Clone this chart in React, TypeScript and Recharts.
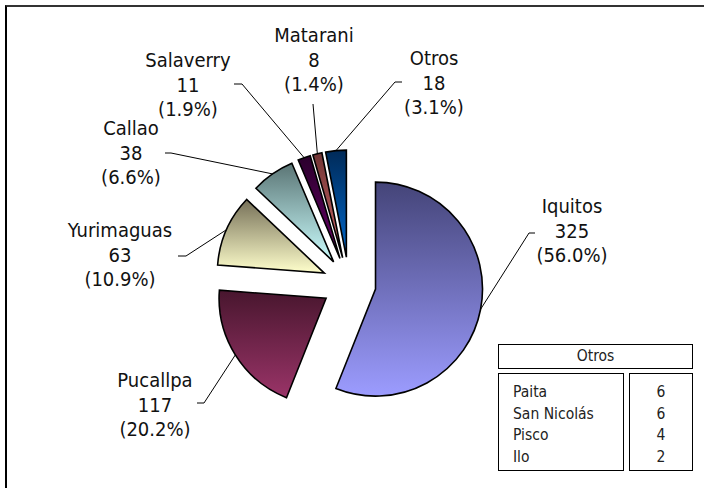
import { PieChart, Pie, Sector } from 'recharts';

// puertos, volumen
const ports = ['Iquitos', 'Pucallpa', 'Yurimaguas', 'Callao', 'Salaverry', 'Matarani', 'Otros'];
const volumes = [325, 117, 63, 38, 11, 8, 18];

// desglose de "Otros"
const otrosNames = ['Paita', 'San Nicolás', 'Pisco', 'Ilo'];
const otrosValues = [6, 6, 4, 2];

const gradients: Record<string, [string, string]> = {
  Iquitos: ['#444478', '#9c9cff'],
  Pucallpa: ['#48162e', '#9a3468'],
  Yurimaguas: ['#767058', '#ffffcc'],
  Callao: ['#5a7474', '#ccffff'],
  Salaverry: ['#2a002c', '#680068'],
  Matarani: ['#703434', '#d06a6a'],
  Otros: ['#002a58', '#0068cc'],
};

// text anchor (center x, first baseline), elbow of leader and short tail
const labelLayout: Record<string, { tx: number; ty: number; elbow: [number, number]; tail: [number, number] }> = {
  Iquitos: { tx: 572, ty: 213, elbow: [529, 233], tail: [535, 233] },
  Pucallpa: { tx: 155, ty: 387, elbow: [204, 403], tail: [197, 403] },
  Yurimaguas: { tx: 120, ty: 237, elbow: [186, 256], tail: [178, 256] },
  Callao: { tx: 131, ty: 135, elbow: [171, 153], tail: [165, 153] },
  Salaverry: { tx: 188, ty: 67, elbow: [242, 84], tail: [234, 84] },
  Matarani: { tx: 314, ty: 42, elbow: [313, 104], tail: [313, 104] },
  Otros: { tx: 434, ty: 65, elbow: [395, 82], tail: [402, 82] },
};

const data = ports.map((name, i) => ({ name, value: volumes[i] }));

const EXPLODE = 27;
const RAD = Math.PI / 180;
const FONT = '"DejaVu Sans Condensed", "DejaVu Sans", sans-serif';

function ExplodedSlice(props: any) {
  const { cx, cy, outerRadius, startAngle, endAngle, midAngle, name, value, percent } = props;
  const dx = EXPLODE * Math.cos(-midAngle * RAD);
  const dy = EXPLODE * Math.sin(-midAngle * RAD);
  const ax = cx + dx;
  const ay = cy + dy;
  const mx = ax + outerRadius * Math.cos(-midAngle * RAD);
  const my = ay + outerRadius * Math.sin(-midAngle * RAD);
  const lay = labelLayout[name];
  return (
    <g>
      <Sector
        cx={ax}
        cy={ay}
        innerRadius={0}
        outerRadius={outerRadius}
        startAngle={startAngle}
        endAngle={endAngle}
        fill={`url(#grad-${name})`}
        stroke="#000"
        strokeWidth={1.6}
      />
      <polyline
        points={`${mx},${my} ${lay.elbow[0]},${lay.elbow[1]} ${lay.tail[0]},${lay.tail[1]}`}
        fill="none"
        stroke="#000"
        strokeWidth={1}
      />
      <text x={lay.tx} y={lay.ty} textAnchor="middle" fontFamily={FONT} fontSize={20} fill="#111">
        <tspan x={lay.tx}>{name}</tspan>
        <tspan x={lay.tx} dy={24.5}>{value}</tspan>
        <tspan x={lay.tx} dy={24.5}>({(percent * 100).toFixed(1)}%)</tspan>
      </text>
    </g>
  );
}

const box = { position: 'absolute' as const, border: '1.5px solid #000', boxSizing: 'border-box' as const, background: '#fff' };

export default function App() {
  return (
    <div style={{ position: 'absolute', left: 0, top: 0, width: 704, height: 488, overflow: 'hidden', background: '#fff' }}>
      <div
        style={{
          position: 'absolute',
          left: 5,
          top: 5,
          width: 699,
          height: 483,
          borderTop: '2px solid #333',
          borderLeft: '2px solid #000',
          boxSizing: 'border-box',
        }}
      />
      <div style={{ position: 'absolute', left: 0, top: 0 }}>
        <PieChart width={704} height={488} margin={{ top: 0, right: 0, bottom: 0, left: 0 }}>
          <defs>
            {ports.map((p) => (
              <linearGradient key={p} id={`grad-${p}`} x1="0" y1="0" x2="0" y2="1">
                <stop offset="0%" stopColor={gradients[p][0]} />
                <stop offset="100%" stopColor={gradients[p][1]} />
              </linearGradient>
            ))}
          </defs>
          <Pie
            data={data}
            dataKey="value"
            nameKey="name"
            cx={349}
            cy={284}
            outerRadius={107}
            startAngle={90}
            endAngle={-270}
            fill="none"
            stroke="none"
            labelLine={false}
            label={ExplodedSlice}
            isAnimationActive={false}
          />
        </PieChart>
      </div>
      <div style={{ ...box, left: 498, top: 344, width: 195, height: 25, fontFamily: FONT, fontSize: 15.5, textAlign: 'center', lineHeight: '22px', color: '#222' }}>
        Otros
      </div>
      <div style={{ ...box, left: 498, top: 373, width: 126, height: 98, fontFamily: FONT, fontSize: 15.5, color: '#222', padding: '8px 0 0 14px' }}>
        {otrosNames.map((n) => (
          <div key={n} style={{ height: 21.5, lineHeight: '21.5px' }}>{n}</div>
        ))}
      </div>
      <div style={{ ...box, left: 629, top: 373, width: 64, height: 98, fontFamily: FONT, fontSize: 15.5, color: '#222', padding: '8px 0 0 0', textAlign: 'center' }}>
        {otrosValues.map((v, i) => (
          <div key={i} style={{ height: 21.5, lineHeight: '21.5px' }}>{v}</div>
        ))}
      </div>
    </div>
  );
}
